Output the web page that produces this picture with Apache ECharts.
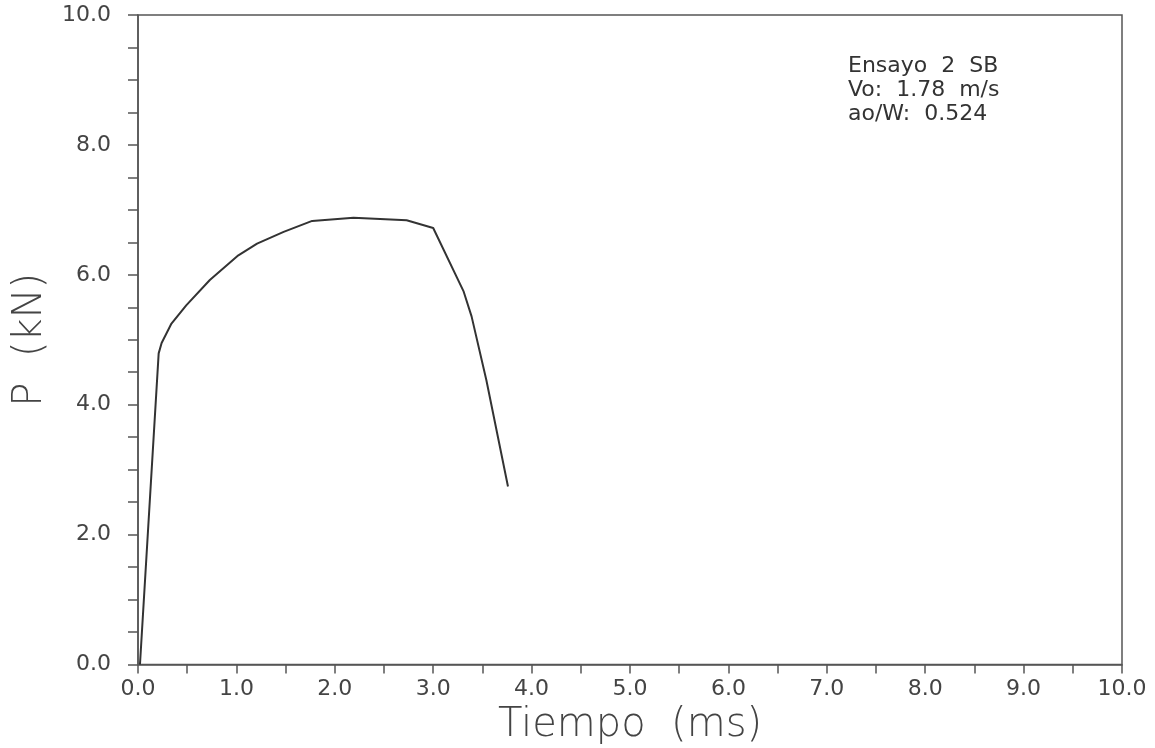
<!DOCTYPE html>
<html>
<head>
<meta charset="utf-8">
<script src="https://cdn.jsdelivr.net/npm/echarts@6/dist/echarts.min.js"></script>
<style>
html,body{margin:0;padding:0;background:#fff;}
#chart{width:1155px;height:748px;}
</style>
</head>
<body>
<div id="chart"></div>
<script>
// Data
const tiempo = [0.02, 0.21, 0.24, 0.34, 0.49, 0.73, 1.02, 1.21, 1.48, 1.77, 2.19, 2.73, 3.00, 3.31, 3.39, 3.54, 3.76];
const carga  = [0.00, 4.79, 4.95, 5.25, 5.53, 5.92, 6.30, 6.48, 6.66, 6.83, 6.88, 6.84, 6.72, 5.74, 5.36, 4.38, 2.74];
const annotationLines = ['Ensayo  2  SB', 'Vo:  1.78  m/s', 'ao/W:  0.524'];
const xAxisName = 'Tiempo  (ms)';
const yAxisName = 'P  (kN)';

const points = tiempo.map((t, i) => [t, carga[i]]);
const axisColor = '#555';
const textColor = '#444';
const fontFam = 'DejaVu Sans, Noto Sans, sans-serif';

const chart = echarts.init(document.getElementById('chart'), null, {renderer: 'canvas'});
chart.setOption({
  animation: false,
  backgroundColor: '#fff',
  grid: {
    left: 138, right: 33, top: 15, bottom: 83.5,
    containLabel: false, outerBoundsMode: 'none',
    show: true, borderColor: axisColor, borderWidth: 1.5, backgroundColor: 'transparent'
  },
  xAxis: {
    type: 'value', min: 0, max: 10, interval: 0.5,
    name: xAxisName, nameLocation: 'middle', nameGap: 38,
    nameTextStyle: {fontSize: 40, color: textColor, fontFamily: fontFam, fontWeight: 'lighter'},
    axisLine: {show: true, lineStyle: {color: axisColor, width: 1.5}},
    axisTick: {show: true, inside: false, length: 9, lineStyle: {color: axisColor, width: 1.5}},
    splitLine: {show: false},
    axisLabel: {
      fontSize: 22, color: textColor, fontFamily: fontFam, margin: 14,
      formatter: v => (Math.abs(v - Math.round(v)) < 1e-9 ? v.toFixed(1) : '')
    }
  },
  yAxis: {
    type: 'value', min: 0, max: 10, interval: 0.5,
    name: yAxisName, nameLocation: 'middle', nameGap: 87, nameRotate: 90,
    nameTextStyle: {fontSize: 40, color: textColor, fontFamily: fontFam, fontWeight: 'lighter'},
    axisLine: {show: true, lineStyle: {color: axisColor, width: 1.5}},
    axisTick: {show: true, inside: false, length: 10, lineStyle: {color: axisColor, width: 1.5}},
    splitLine: {show: false},
    axisLabel: {
      fontSize: 22, color: textColor, fontFamily: fontFam, margin: 27,
      formatter: v => (Math.abs(v / 2 - Math.round(v / 2)) < 1e-9 ? v.toFixed(1) : '')
    }
  },
  series: [{
    type: 'line',
    data: points,
    showSymbol: false,
    smooth: false,
    lineStyle: {color: '#333', width: 2}
  }],
  graphic: [{
    type: 'text',
    left: 848, top: 54,
    style: {
      text: annotationLines.join('\n'),
      fontSize: 22, lineHeight: 24, fill: '#333', fontFamily: fontFam
    }
  }]
});
</script>
</body>
</html>
